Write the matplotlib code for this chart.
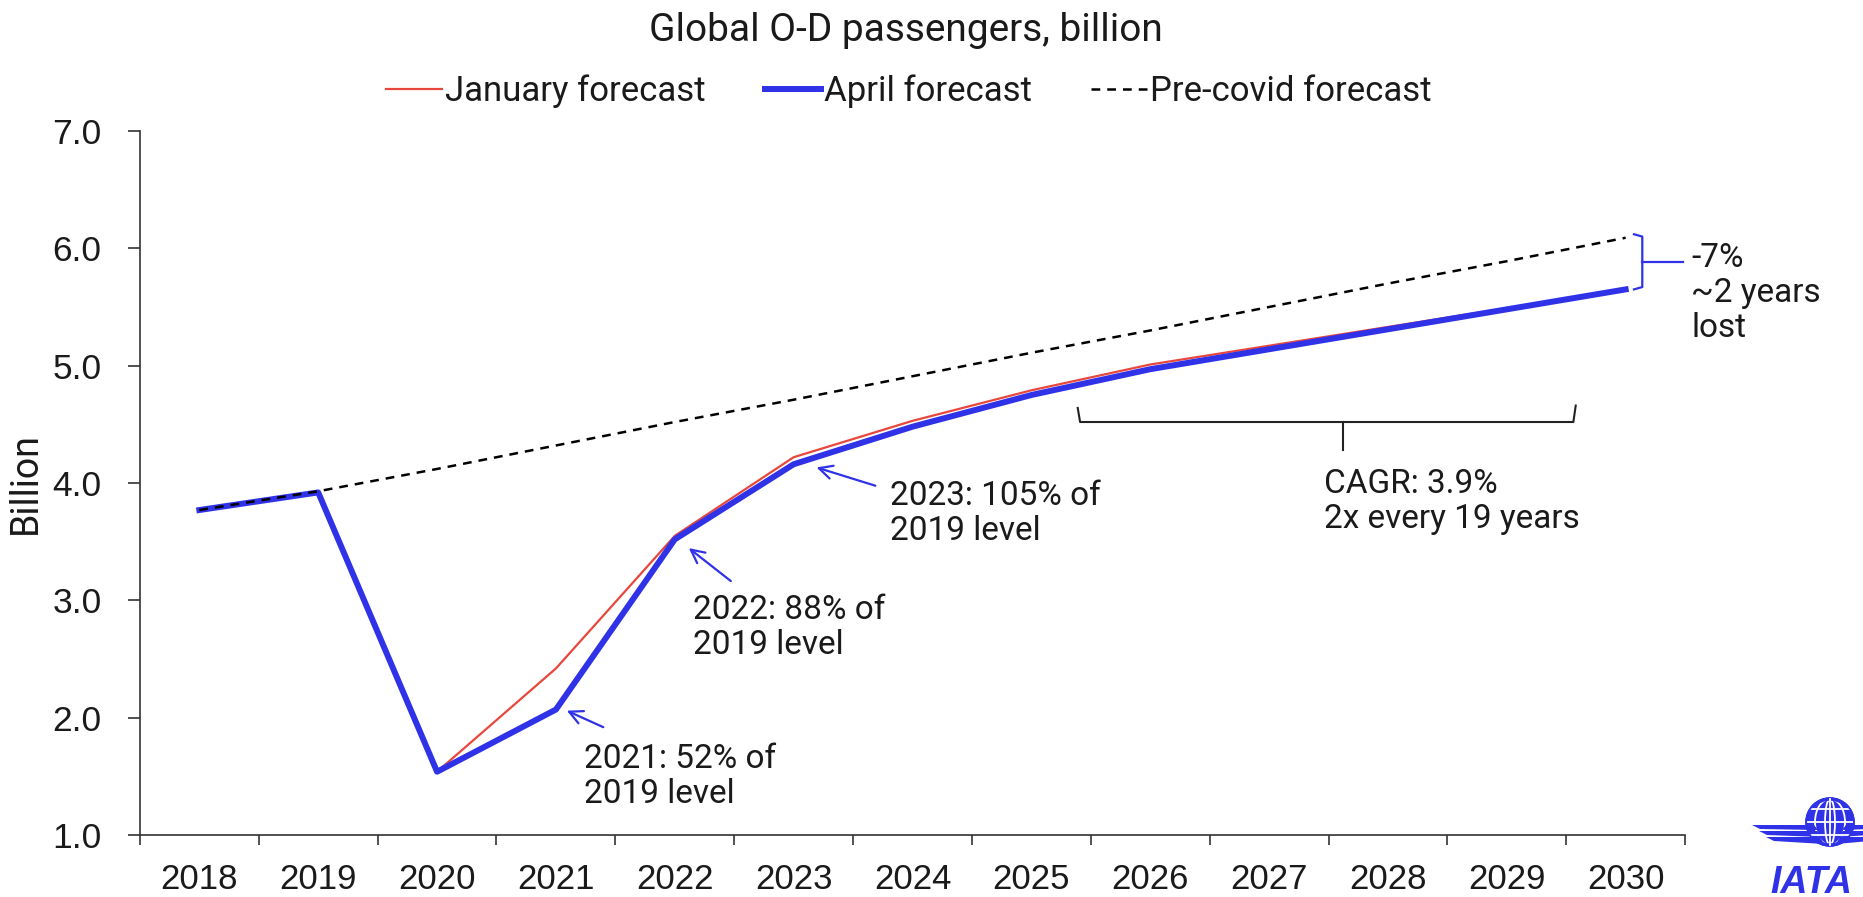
import matplotlib
matplotlib.use("Agg")
import matplotlib.pyplot as plt
from matplotlib.patches import Circle, Polygon, Ellipse

years = ["2018", "2019", "2020", "2021", "2022", "2023", "2024",
         "2025", "2026", "2027", "2028", "2029", "2030"]
january = [3.77, 3.92, 1.54, 2.42, 3.55, 4.22, 4.53, 4.79, 5.01, 5.17, 5.33, 5.49, 5.65]
april = [3.77, 3.92, 1.54, 2.07, 3.52, 4.16, 4.48, 4.75, 4.97, 5.14, 5.31, 5.48, 5.65]
precovid = [3.77, 3.93, 4.12, 4.32, 4.52, 4.71, 4.91, 5.11, 5.30, 5.50, 5.70, 5.89, 6.09]
yticks = [1.0, 2.0, 3.0, 4.0, 5.0, 6.0, 7.0]

BLUE = "#2f32e6"
RED = "#e8473e"
TXT = "#1a1a1a"
FS = 24
TICKFONT = ["Liberation Sans", "DejaVu Sans"]
plt.rcParams["font.family"] = ["Roboto", "DejaVu Sans"]

fig = plt.figure(figsize=(18.63, 8.97), dpi=100)
ax = fig.add_axes([0.0751, 0.069, 0.8294, 0.785])

x = list(range(len(years)))
ax.plot(x, january, color=RED, lw=1.6, label="January forecast", zorder=2)
ax.plot(x, april, color=BLUE, lw=4.3, label="April forecast", zorder=3)
ax.plot(x, precovid, color="black", lw=1.8, ls=(0, (3.5, 2.8)),
        label="Pre-covid forecast", zorder=4)

ax.set_xlim(-0.5, len(years) - 0.5)
ax.set_ylim(1.0, 7.0)
ax.set_yticks(yticks)
ax.set_yticklabels([f"{v:.1f}" for v in yticks], family=TICKFONT,
                   fontsize=25.5, color=TXT)
ax.set_xticks(x)
ax.set_xticklabels(years, family=TICKFONT, fontsize=25, color=TXT)
ax.set_xticks([i - 0.5 for i in range(len(years) + 1)], minor=True)
ax.tick_params(axis="x", which="major", length=0, pad=20)
ax.tick_params(axis="x", which="minor", length=7.5, width=1.2, color="#333333")
ax.tick_params(axis="y", length=8.5, width=1.2, color="#333333", pad=19)
for s in ["top", "right"]:
    ax.spines[s].set_visible(False)
for s in ["left", "bottom"]:
    ax.spines[s].set_color("#333333")
    ax.spines[s].set_linewidth(1.2)
ax.set_ylabel("Billion", fontsize=27, color=TXT)
ax.yaxis.set_label_coords(-0.062, 0.5)

fig.text(0.486, 0.966, "Global O-D passengers, billion", ha="center", va="center",
         fontsize=28, color=TXT)
leg = fig.legend(loc="center", bbox_to_anchor=(0.488, 0.898), ncol=3, frameon=False,
                 fontsize=25, handlelength=1.6, handletextpad=0.1, columnspacing=1.7)
for t in leg.get_texts():
    t.set_color(TXT)

# arrows and notes
arrow = dict(arrowstyle="->", color=BLUE, lw=1.6, mutation_scale=24)
ax.annotate("", xy=(3.07, 2.07), xytext=(3.42, 1.91), arrowprops=arrow)
ax.annotate("", xy=(4.10, 3.46), xytext=(4.49, 3.15), arrowprops=arrow)
ax.annotate("", xy=(5.17, 4.14), xytext=(5.71, 3.97), arrowprops=arrow)
ax.text(3.24, 1.50, "2021: 52% of\n2019 level", fontsize=FS, color=TXT,
        va="center", linespacing=1.12)
ax.text(4.15, 2.77, "2022: 88% of\n2019 level", fontsize=FS, color=TXT,
        va="center", linespacing=1.12)
ax.text(5.81, 3.74, "2023: 105% of\n2019 level", fontsize=FS, color=TXT,
        va="center", linespacing=1.12)

# CAGR bracket
ax.plot([7.39, 7.41, 11.56, 11.58], [4.64, 4.52, 4.52, 4.66], color="#222222",
        lw=1.5, clip_on=False)
ax.plot([9.62, 9.62], [4.52, 4.28], color="#222222", lw=1.5, clip_on=False)
ax.text(9.46, 3.84, "CAGR: 3.9%\n2x every 19 years", fontsize=FS, color=TXT,
        va="center", linespacing=1.12)

# gap bracket
ax.plot([12.07, 12.14, 12.14, 12.07], [6.12, 6.10, 5.67, 5.65], color=BLUE,
        lw=1.6, clip_on=False)
ax.plot([12.14, 12.48], [5.88, 5.88], color=BLUE, lw=1.6, clip_on=False)
ax.text(12.55, 5.62, "-7%\n~2 years\nlost", fontsize=FS, color=TXT,
        va="center", linespacing=1.12, clip_on=False)

# IATA logo (rough), drawn in pixel units
lg = fig.add_axes([1740 / 1863, 0, 123 / 1863, 130 / 897])
lg.set_xlim(0, 123)
lg.set_ylim(0, 130)
lg.axis("off")
globe = Circle((90, 75), 23, facecolor=BLUE, edgecolor=BLUE, lw=2.5)
lg.add_patch(globe)
for yy in (62, 75, 88):
    ln, = lg.plot([60, 120], [yy, yy], color="white", lw=1.3)
    ln.set_clip_path(globe)
for w in (10, 30):
    e = Ellipse((90, 75), w, 46, facecolor="none", edgecolor="white", lw=1.3)
    lg.add_patch(e)
    e.set_clip_path(globe)
lg.plot([90, 90], [52, 98], color="white", lw=1.3)
lg.add_patch(Circle((90, 75), 23, facecolor="none", edgecolor=BLUE, lw=2.5))
for k in range(3):
    y0 = 68 - k * 6
    lg.add_patch(Polygon([[12 + k * 7, y0 + 4], [74 + k * 3, y0 + 4],
                          [78 + k * 3, y0 - 1 - k], [20 + k * 7, y0]],
                         closed=True, facecolor=BLUE, edgecolor="none"))
    lg.add_patch(Polygon([[106 - k * 3, y0 + 4], [130, y0 + 4],
                          [130, y0], [102 - k * 3, y0 - 1 - k]],
                         closed=True, facecolor=BLUE, edgecolor="none"))
lg.text(30, 4, "IATA", fontsize=27, fontweight="bold", fontstyle="italic",
        color=BLUE, ha="left", va="baseline", family=["Liberation Sans", "DejaVu Sans"],
        clip_on=False)

fig.savefig("out.png", dpi=100, facecolor="white")
